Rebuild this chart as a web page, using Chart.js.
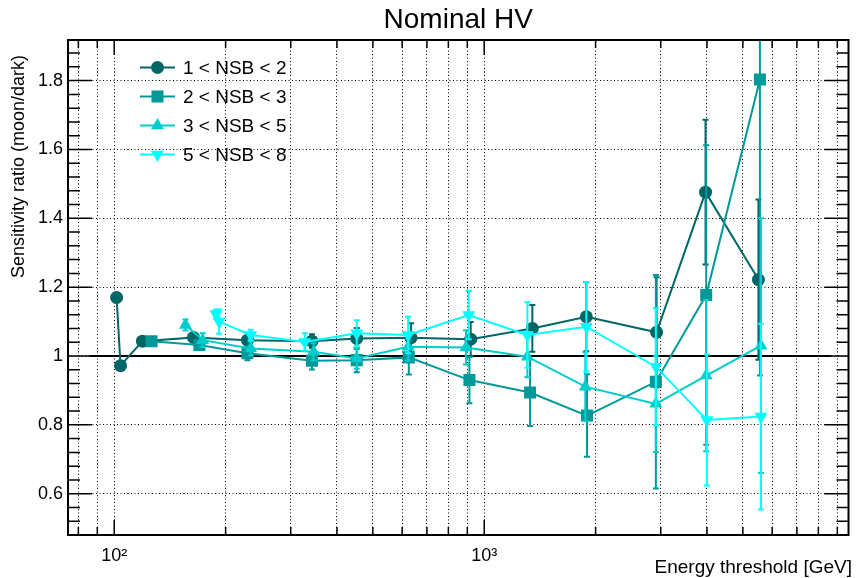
<!DOCTYPE html>
<html><head><meta charset="utf-8">
<script src="https://cdn.jsdelivr.net/npm/chart.js@4.4.1/dist/chart.umd.min.js"></script>
<style>html,body{margin:0;padding:0;background:#fff}canvas{display:block}</style>
</head><body>
<canvas id="c" width="857" height="578"></canvas>
<script>
const FONT = '"Liberation Sans", Arial, Helvetica, sans-serif';

// ---- data ----
const seriesNames = ['1 < NSB < 2', '2 < NSB < 3', '3 < NSB < 5', '5 < NSB < 8'];
const seriesColors = ['#006666', '#009999', '#00CCCC', '#00FFFF'];
const seriesMarkers = ['circle', 'rect', 'triangle', 'triangle'];
const markerRotation = [0, 0, 0, 180];
const markerRadius = [6.5, 8.5, 7.5, 7.5];

const energy1 = [101.5, 104.0, 119.2, 163.7, 229.1, 342.3, 452.3, 634.4, 919.3, 1349, 1888, 2923, 3964, 5509];
const ratio1  = [1.170, 0.972, 1.043, 1.054, 1.046, 1.043, 1.051, 1.053, 1.049, 1.080, 1.114, 1.069, 1.476, 1.222];
const err1    = [0.010, 0.010, 0.008, 0.010, 0.012, 0.020, 0.030, 0.042, 0.050, 0.068, 0.100, 0.160, 0.210, 0.233];

const energy2 = [126.1, 169.9, 229.1, 342.3, 452.3, 625.4, 912, 1330, 1896, 2910, 3981, 5560];
const ratio2  = [1.043, 1.032, 1.008, 0.986, 0.988, 0.996, 0.930, 0.894, 0.827, 0.925, 1.177, 1.803];
const err2    = [0.008, 0.012, 0.020, 0.025, 0.035, 0.050, 0.067, 0.097, 0.120, 0.310, 0.435, 0.860];

const energy3 = [155.8, 173.4, 233.9, 345.9, 452.3, 622.8, 892.9, 1308, 1876, 2910, 3981, 5595];
const ratio3  = [1.090, 1.046, 1.022, 1.012, 0.993, 1.027, 1.025, 0.998, 0.911, 0.861, 0.943, 1.030];
const err3    = [0.016, 0.020, 0.020, 0.025, 0.030, 0.040, 0.050, 0.060, 0.100, 0.140, 0.220, 0.370];

const energy4 = [188.4, 192.2, 233.9, 327.3, 452.3, 622.8, 908, 1308, 1888, 2910, 3998, 5595];
const ratio4  = [1.122, 1.100, 1.061, 1.041, 1.066, 1.061, 1.119, 1.061, 1.085, 0.969, 0.814, 0.824];
const err4    = [0.013, 0.035, 0.015, 0.025, 0.038, 0.053, 0.070, 0.095, 0.130, 0.170, 0.190, 0.270];

const refLineX = [86, 8630];
const refLineY = [1, 1];

const xGridTicks = [80, 90, 100, 200, 300, 400, 500, 600, 700, 800, 900, 1000, 2000, 3000, 4000, 5000, 6000, 7000, 8000, 9000];
const xMajorTicks = [100, 1000];
const xTickLabels = {100: '10\u00B2', 1000: '10\u00B3'};
const yMajorTicks = [0.6, 0.8, 1.0, 1.2, 1.4, 1.6, 1.8];
const yMinorTicks = [0.52, 0.56, 0.64, 0.68, 0.72, 0.76, 0.84, 0.88, 0.92, 0.96, 1.04, 1.08, 1.12, 1.16,
                     1.24, 1.28, 1.32, 1.36, 1.44, 1.48, 1.52, 1.56, 1.64, 1.68, 1.72, 1.76, 1.84, 1.88];

const titleText = 'Nominal HV';
const xTitle = 'Energy threshold [GeV]';
const yTitle = 'Sensitivity ratio (moon/dark)';

// ---- build datasets ----
const energies = [energy1, energy2, energy3, energy4];
const ratios = [ratio1, ratio2, ratio3, ratio4];
const errs = [err1, err2, err3, err4];

const datasets = seriesNames.map((name, i) => ({
  label: name,
  data: energies[i].map((e, k) => ({x: e, y: ratios[i][k]})),
  errors: errs[i],
  borderColor: seriesColors[i],
  backgroundColor: seriesColors[i],
  pointBackgroundColor: seriesColors[i],
  pointBorderColor: seriesColors[i],
  pointBorderWidth: 0,
  pointStyle: seriesMarkers[i],
  pointRotation: markerRotation[i],
  pointRadius: markerRadius[i],
  pointHoverRadius: markerRadius[i],
  borderWidth: 2,
  showLine: true,
  tension: 0,
  order: 4 - i
}));
datasets.push({
  label: 'ref',
  data: refLineX.map((x, k) => ({x: x, y: refLineY[k]})),
  borderColor: '#000000',
  borderWidth: 2,
  pointRadius: 0,
  showLine: true,
  order: 10
});

const rootPlugin = {
  id: 'rootStyle',
  beforeDatasetDraw(chart, args) {
    const ds = chart.data.datasets[args.index];
    if (!ds.errors) return;
    const ctx = chart.ctx, xs = chart.scales.x, ys = chart.scales.y, a = chart.chartArea;
    ctx.save();
    ctx.beginPath(); ctx.rect(a.left, a.top, a.right - a.left, a.bottom - a.top); ctx.clip();
    ctx.strokeStyle = ds.borderColor; ctx.lineWidth = 2; ctx.lineCap = 'butt';
    ds.data.forEach((p, i) => {
      const e = ds.errors[i];
      const px = xs.getPixelForValue(p.x);
      const y1 = ys.getPixelForValue(p.y + e), y2 = ys.getPixelForValue(p.y - e);
      ctx.beginPath();
      ctx.moveTo(px, y1); ctx.lineTo(px, y2);
      ctx.moveTo(px - 3, y1); ctx.lineTo(px + 3, y1);
      ctx.moveTo(px - 3, y2); ctx.lineTo(px + 3, y2);
      ctx.stroke();
    });
    ctx.restore();
  },
  afterDraw(chart) {
    const ctx = chart.ctx, xs = chart.scales.x, ys = chart.scales.y, a = chart.chartArea;
    ctx.save();
    // ticks
    ctx.strokeStyle = '#000'; ctx.lineWidth = 1.5;
    ctx.beginPath();
    yMajorTicks.forEach(v => { const p = ys.getPixelForValue(v);
      ctx.moveTo(a.left, p); ctx.lineTo(a.left + 24, p); ctx.moveTo(a.right, p); ctx.lineTo(a.right - 24, p); });
    yMinorTicks.forEach(v => { const p = ys.getPixelForValue(v);
      ctx.moveTo(a.left, p); ctx.lineTo(a.left + 12, p); ctx.moveTo(a.right, p); ctx.lineTo(a.right - 12, p); });
    xGridTicks.forEach(v => { const p = xs.getPixelForValue(v);
      const L = xMajorTicks.includes(v) ? 15 : 8;
      ctx.moveTo(p, a.bottom); ctx.lineTo(p, a.bottom - L); ctx.moveTo(p, a.top); ctx.lineTo(p, a.top + L); });
    ctx.stroke();
    // frame
    ctx.lineWidth = 2;
    ctx.strokeRect(a.left, a.top, a.right - a.left, a.bottom - a.top);
    // title
    ctx.fillStyle = '#000';
    ctx.font = '28px ' + FONT;
    ctx.textAlign = 'center'; ctx.textBaseline = 'middle';
    ctx.fillText(titleText, (a.left + a.right) / 2, 20);
    // x title
    ctx.font = '19px ' + FONT;
    ctx.textAlign = 'right'; ctx.textBaseline = 'alphabetic';
    ctx.fillText(xTitle, 852, 573);
    // y title
    ctx.save();
    ctx.translate(24, 55); ctx.rotate(-Math.PI / 2);
    ctx.font = '18px ' + FONT;
    ctx.textAlign = 'right'; ctx.textBaseline = 'alphabetic';
    ctx.fillText(yTitle, 0, 0);
    ctx.restore();
    // legend
    seriesNames.forEach((name, i) => {
      const y = 67.5 + 29 * i;
      ctx.strokeStyle = seriesColors[i]; ctx.lineWidth = 2;
      ctx.beginPath(); ctx.moveTo(140, y); ctx.lineTo(175, y); ctx.stroke();
      ctx.fillStyle = seriesColors[i];
      Chart.helpers.drawPoint(ctx, {pointStyle: seriesMarkers[i], rotation: markerRotation[i], radius: markerRadius[i], borderWidth: 0}, 157.5, y);
      ctx.fillStyle = '#000';
      ctx.font = '19px ' + FONT;
      ctx.textAlign = 'left'; ctx.textBaseline = 'middle';
      ctx.fillText(name, 183, y + 1);
    });
    ctx.restore();
  }
};

new Chart(document.getElementById('c'), {
  type: 'scatter',
  data: {datasets},
  options: {
    responsive: false,
    animation: false,
    devicePixelRatio: 1,
    layout: {padding: {top: 40, right: 4, left: 0, bottom: 0}},
    plugins: {legend: {display: false}, tooltip: {enabled: false}, title: {display: false}},
    scales: {
      x: {
        type: 'logarithmic', min: 75, max: 9650,
        afterBuildTicks: s => { s.ticks = xGridTicks.map(v => ({value: v})); },
        afterFit: s => { s.height = 43; },
        ticks: {
          autoSkip: false, maxRotation: 0, minRotation: 0, padding: 10,
          color: '#000', font: {family: FONT, size: 18},
          callback: v => xTickLabels[v] || ''
        },
        grid: {color: '#000', lineWidth: 1, drawTicks: false},
        border: {display: false, dash: [1, 2.5]}
      },
      y: {
        type: 'linear', min: 0.48, max: 1.918,
        afterBuildTicks: s => { s.ticks = yMajorTicks.map(v => ({value: v})); },
        afterFit: s => { s.width = 68; },
        ticks: {
          padding: 5, color: '#000', font: {family: FONT, size: 18},
          callback: v => String(Math.round(v * 10) / 10)
        },
        grid: {color: '#000', lineWidth: 1, drawTicks: false},
        border: {display: false, dash: [1, 2.5]}
      }
    }
  },
  plugins: [rootPlugin]
});
</script>
</body></html>
